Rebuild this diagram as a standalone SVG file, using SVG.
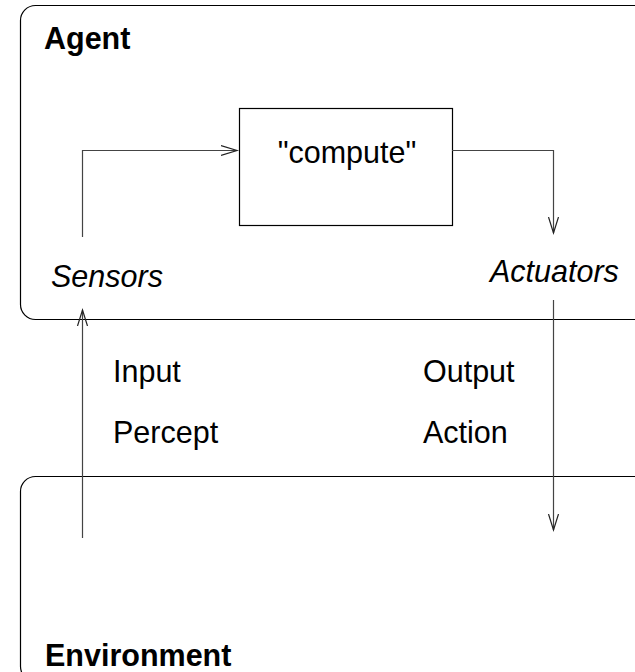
<svg xmlns="http://www.w3.org/2000/svg" width="635" height="672" viewBox="0 0 635 672">
<defs>
<style>
.box{fill:none;stroke:#000;stroke-width:1.2}
.conn{fill:none;stroke:#444;stroke-width:1.2}
.t{font-family:"Liberation Sans",Arial,sans-serif;font-size:30.5px;fill:#000}
.b{font-weight:bold}
.i{font-style:italic}
</style>
<marker id="arr" markerUnits="userSpaceOnUse" markerWidth="20" markerHeight="14" refX="16" refY="5" orient="auto" viewBox="0 0 20 10">
<path d="M0,0 L16,5 L0,10" fill="none" stroke="#222" stroke-width="1.2"/>
</marker>
</defs>
<g id="agent">
<rect class="box" x="20.5" y="5.5" width="640" height="314" rx="15" ry="15"/>
<text class="t b" x="44" y="49">Agent</text>
</g>
<g id="compute">
<rect class="box" x="239.5" y="108.5" width="213" height="117"/>
<text class="t" x="347" y="163" text-anchor="middle">"compute"</text>
</g>
<g id="sensors">
<text class="t i" x="51" y="287">Sensors</text>
</g>
<g id="actuators">
<text class="t i" x="490" y="282">Actuators</text>
</g>
<g id="environment">
<rect class="box" x="20.5" y="476.5" width="640" height="205" rx="15" ry="15"/>
<text class="t b" x="45" y="666">Environment</text>
</g>
<g id="labels">
<text class="t" x="113" y="382">Input</text>
<text class="t" x="113" y="443">Percept</text>
<text class="t" x="423" y="382">Output</text>
<text class="t" x="423" y="443">Action</text>
</g>
<g id="connectors">
<polyline class="conn" points="82.5,237 82.5,150.5 237,150.5" marker-end="url(#arr)"/>
<polyline class="conn" points="452,150.5 553.5,150.5 553.5,233" marker-end="url(#arr)"/>
<line class="conn" x1="82.5" y1="538" x2="82.5" y2="310" marker-end="url(#arr)"/>
<line class="conn" x1="553.5" y1="300" x2="553.5" y2="530" marker-end="url(#arr)"/>
</g>
</svg>
